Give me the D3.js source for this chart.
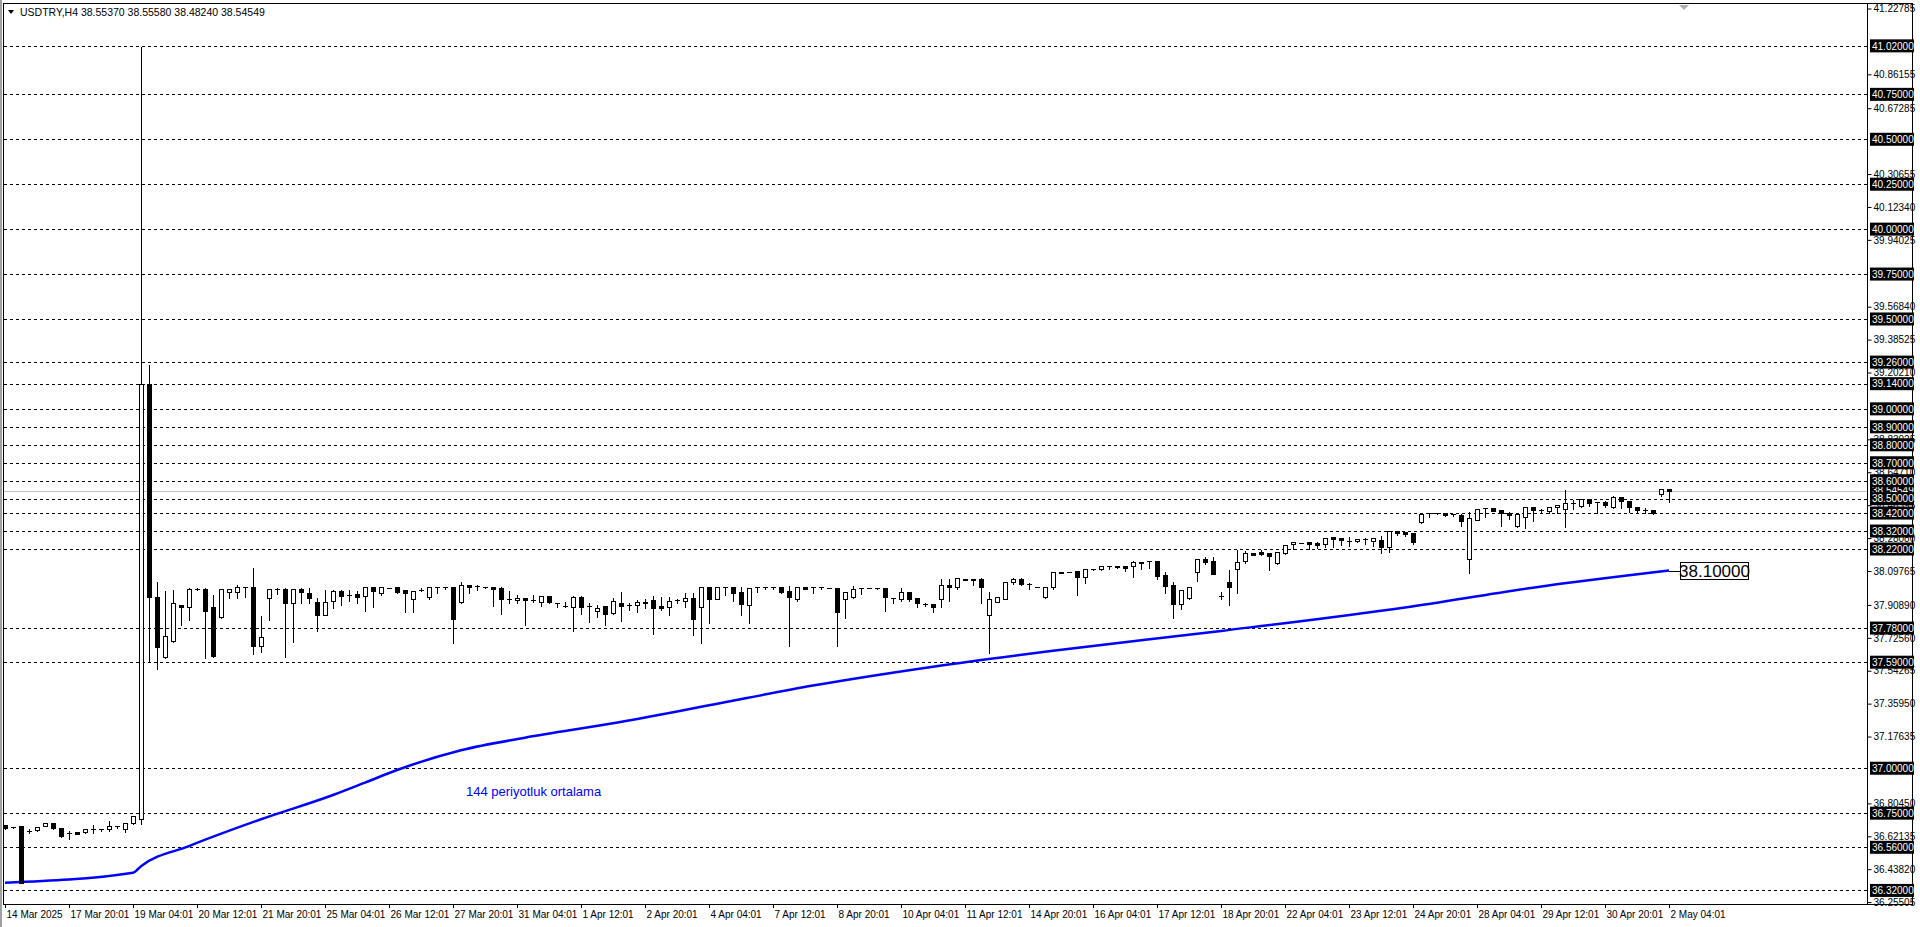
<!DOCTYPE html>
<html><head><meta charset="utf-8">
<script src="https://cdn.jsdelivr.net/npm/d3@7/dist/d3.min.js"></script>
<style>
html,body{margin:0;padding:0;background:#fff;overflow:hidden}
text{font-family:"Liberation Sans",Arial,sans-serif}
</style></head><body>
<svg id="c" width="1920" height="927"></svg>
<script>
const title = "USDTRY,H4  38.55370 38.55580 38.48240 38.54549";
const ohlc = [
[36.684,36.69,36.66,36.665],[36.675,36.68,36.67,36.675],[36.678,36.682,36.359,36.363],[36.652,36.665,36.637,36.652],
[36.656,36.678,36.653,36.675],[36.678,36.695,36.676,36.693],[36.693,36.695,36.663,36.665],[36.665,36.667,36.615,36.623],
[36.637,36.656,36.604,36.637],[36.643,36.645,36.632,36.634],[36.643,36.662,36.641,36.66],[36.66,36.689,36.641,36.66],
[36.66,36.668,36.652,36.66],[36.66,36.712,36.652,36.68],[36.678,36.685,36.67,36.678],[36.66,36.695,36.645,36.693],
[36.695,36.737,36.69,36.735],[36.72,41.02,36.69,39.14],[39.14,39.25,37.59,37.954],[37.954,38.04,37.55,37.676],
[37.617,37.99,37.615,37.736],[37.706,38.0,37.704,37.917],[37.908,37.91,37.797,37.895],[37.895,38.01,37.825,37.995],
[37.999,38.01,37.99,37.999],[37.995,38.01,37.611,37.877],[37.895,37.97,37.62,37.626],[37.84,38.0,37.838,37.995],
[37.982,38.0,37.945,38.0],[37.982,38.025,37.95,38.006],[38.006,38.01,37.955,38.006],[38.006,38.118,37.634,37.682],
[37.682,37.852,37.649,37.728],[37.945,37.997,37.825,37.995],[37.995,38.006,37.97,37.995],[37.995,38.006,37.617,37.917],
[37.917,37.997,37.70,37.995],[37.995,38.006,37.917,37.982],[37.973,38.006,37.92,37.945],[37.923,37.955,37.765,37.852],
[37.852,38.0,37.85,37.923],[37.932,38.0,37.89,37.988],[37.988,38.0,37.908,37.96],[37.964,38.0,37.932,37.964],
[37.968,37.99,37.918,37.951],[37.96,38.008,37.877,38.006],[38.006,38.008,37.899,37.988],[37.973,38.008,37.965,38.006],
[38.004,38.006,38.002,38.004],[38.006,38.008,37.977,37.982],[37.992,37.995,37.871,37.973],[37.94,37.99,37.871,37.988],
[37.992,38.01,37.988,37.992],[37.955,38.008,37.944,38.006],[38.006,38.008,37.977,38.006],[38.006,38.008,38.0,38.006],
[38.006,38.008,37.698,37.829],[37.923,38.041,37.92,38.017],[38.017,38.019,37.977,38.01],[38.012,38.025,37.992,38.012],
[38.006,38.008,38.004,38.006],[38.006,38.008,37.903,37.999],[38.004,38.014,37.858,37.943],[37.943,37.992,37.918,37.943],
[37.936,37.97,37.921,37.95],[37.945,37.947,37.797,37.936],[37.936,37.97,37.927,37.936],[37.927,37.958,37.903,37.956],
[37.956,37.958,37.918,37.927],[37.918,37.92,37.895,37.918],[37.903,37.932,37.895,37.903],[37.899,37.964,37.765,37.951],
[37.951,37.964,37.858,37.899],[37.903,37.927,37.815,37.903],[37.877,37.914,37.84,37.891],[37.903,37.905,37.797,37.858],
[37.866,37.951,37.858,37.93],[37.921,37.988,37.821,37.903],[37.91,37.927,37.88,37.91],[37.908,37.94,37.871,37.927],
[37.927,37.945,37.89,37.918],[37.936,37.964,37.747,37.89],[37.903,37.958,37.88,37.892],[37.899,37.958,37.853,37.929],
[37.934,37.95,37.921,37.934],[37.932,37.982,37.895,37.945],[37.945,37.982,37.741,37.829],[37.899,38.014,37.695,38.006],
[38.006,38.008,37.81,37.943],[37.943,38.008,37.94,38.006],[38.006,38.01,37.964,38.006],[38.006,38.014,37.932,37.977],
[37.979,38.014,37.853,37.912],[37.906,38.004,37.81,38.001],[38.006,38.008,37.982,38.006],[38.006,38.008,38.0,38.006],
[38.006,38.008,38.0,38.006],[38.006,38.014,37.977,37.982],[37.986,38.018,37.68,37.951],[37.943,38.008,37.932,38.006],
[38.006,38.008,37.997,37.999],[38.006,38.008,37.977,38.006],[38.006,38.008,38.0,38.006],[38.004,38.006,38.002,38.004],
[38.001,38.006,37.68,37.871],[37.94,37.988,37.838,37.981],[37.951,38.02,37.95,37.995],[38.004,38.01,37.97,38.004],
[38.004,38.006,38.002,38.004],[38.004,38.01,37.999,38.004],[38.001,38.003,37.877,37.951],[37.949,37.951,37.918,37.949],
[37.943,38.006,37.932,37.979],[37.979,37.981,37.932,37.943],[37.945,37.947,37.899,37.918],[37.914,37.927,37.903,37.914],
[37.912,37.921,37.871,37.899],[37.943,38.057,37.899,38.018],[38.018,38.057,37.932,38.006],[38.006,38.066,38.0,38.057],
[38.055,38.057,38.045,38.047],[38.055,38.057,38.018,38.047],[38.055,38.066,37.92,38.01],[37.851,37.985,37.643,37.943],
[37.925,37.953,37.923,37.951],[37.943,38.042,37.941,38.036],[38.036,38.066,38.025,38.051],[38.051,38.066,38.018,38.025],
[38.023,38.036,37.995,38.023],[38.01,38.012,38.008,38.01],[37.951,38.006,37.945,38.006],[38.006,38.094,38.0,38.09],
[38.094,38.096,38.084,38.086],[38.092,38.094,38.09,38.092],[38.095,38.097,37.964,38.062],[38.066,38.116,38.032,38.107],
[38.107,38.109,38.105,38.107],[38.107,38.129,38.105,38.127],[38.127,38.129,38.107,38.127],[38.127,38.129,38.116,38.118],
[38.125,38.127,38.099,38.114],[38.127,38.159,38.062,38.146],[38.15,38.153,38.107,38.144],[38.155,38.16,38.114,38.155],
[38.153,38.155,38.051,38.071],[38.073,38.097,37.977,38.016],[38.018,38.042,37.838,37.914],[37.912,37.997,37.888,37.99],
[37.945,38.009,37.943,38.007],[38.094,38.166,38.044,38.164],[38.164,38.181,38.136,38.148],[38.151,38.181,38.081,38.083],
[37.96,37.986,37.943,37.96],[38.034,38.109,37.91,38.007],[38.107,38.218,37.973,38.146],[38.151,38.214,38.144,38.196],
[38.199,38.201,38.186,38.188],[38.201,38.218,38.188,38.19],[38.196,38.198,38.103,38.183],[38.14,38.203,38.138,38.201],
[38.196,38.246,38.194,38.244],[38.246,38.264,38.218,38.257],[38.255,38.257,38.253,38.255],[38.257,38.259,38.218,38.25],
[38.253,38.264,38.224,38.244],[38.246,38.281,38.229,38.279],[38.285,38.287,38.233,38.274],[38.281,38.283,38.242,38.268],
[38.266,38.292,38.237,38.266],[38.263,38.277,38.261,38.275],[38.277,38.288,38.248,38.277],[38.263,38.283,38.237,38.281],
[38.27,38.298,38.2,38.229],[38.229,38.318,38.205,38.318],[38.318,38.32,38.298,38.307],[38.316,38.318,38.294,38.303],
[38.307,38.309,38.246,38.261],[38.368,38.417,38.362,38.415],[38.418,38.42,38.396,38.418],[38.418,38.42,38.416,38.418],
[38.418,38.42,38.403,38.411],[38.414,38.416,38.405,38.414],[38.409,38.418,38.35,38.377],[38.164,38.431,38.088,38.39],
[38.381,38.45,38.379,38.444],[38.446,38.453,38.396,38.446],[38.446,38.448,38.431,38.433],[38.437,38.439,38.35,38.418],
[38.42,38.431,38.387,38.407],[38.346,38.417,38.344,38.415],[38.396,38.459,38.338,38.452],[38.452,38.454,38.377,38.439],
[38.439,38.446,38.428,38.439],[38.433,38.454,38.422,38.452],[38.452,38.47,38.422,38.463],[38.441,38.552,38.344,38.474],
[38.478,38.5,38.441,38.478],[38.459,38.502,38.455,38.496],[38.498,38.502,38.459,38.474],[38.48,38.483,38.418,38.48],
[38.481,38.492,38.452,38.463],[38.452,38.52,38.45,38.507],[38.507,38.509,38.446,38.485],[38.489,38.492,38.424,38.452],
[38.454,38.456,38.428,38.439],[38.439,38.452,38.422,38.439],[38.437,38.44,38.416,38.418],[38.526,38.554,38.515,38.552],
[38.5537,38.5558,38.4824,38.54549]
];
const maIdx = [0,16,17,23,32,41,45,49,57,65,76,88,101,116,131,152,175,191,208];
const maVal = [36.363,36.418,36.455,36.567,36.716,36.851,36.92,36.99,37.10,37.17,37.25,37.35,37.46,37.565,37.654,37.764,37.895,38.005,38.1];
const maLabel = "144 periyotluk ortalama";
const maValueText = "38.10000";
const levels = [41.02,40.75,40.5,40.25,40.0,39.75,39.5,39.26,39.14,39.0,38.9,38.8,38.7,38.6,38.5,38.42,38.32,38.22,37.78,37.59,37.0,36.75,36.56,36.32];
const priceTicks = [41.22785,40.86155,40.67285,40.30655,40.12340,39.94025,39.56840,39.38525,39.20210,38.83025,38.64710,38.46395,38.28080,38.09765,37.90890,37.72560,37.54265,37.35950,37.17635,36.80450,36.62135,36.43820,36.25505];
const lastPrice = 38.54549;
const timeLabels = ["14 Mar 2025","17 Mar 20:01","19 Mar 04:01","20 Mar 12:01","21 Mar 20:01","25 Mar 04:01","26 Mar 12:01","27 Mar 20:01","31 Mar 04:01","1 Apr 12:01","2 Apr 20:01","4 Apr 04:01","7 Apr 12:01","8 Apr 20:01","10 Apr 04:01","11 Apr 12:01","14 Apr 20:01","16 Apr 04:01","17 Apr 12:01","18 Apr 20:01","22 Apr 04:01","23 Apr 12:01","24 Apr 20:01","28 Apr 04:01","29 Apr 12:01","30 Apr 20:01","2 May 04:01"];

const L=4, R=1867, T=4, B=905;
const svg = d3.select("#c");
const x = d3.scaleLinear().domain([0,208]).range([5,1669]);
const y = d3.scaleLinear().domain([36.25505,41.22785]).range([902.1,8.5]);
const px = v => Math.round(x(v)) + 0.5;
const py = v => Math.round(y(v)) + 0.5;

svg.append("rect").attr("x",0).attr("y",0).attr("width",2).attr("height",927).attr("fill","#a0a0a0");
svg.append("rect").attr("x",L-0.5).attr("y",T-0.5).attr("width",1913-L).attr("height",B-T).attr("fill","none").attr("stroke","#000");
svg.append("line").attr("x1",R+0.5).attr("x2",R+0.5).attr("y1",T).attr("y2",B).attr("stroke","#000");

svg.append("g").selectAll("line").data(levels).join("line")
 .attr("x1",L).attr("x2",R).attr("y1",d=>py(d)).attr("y2",d=>py(d))
 .attr("stroke","#000").attr("stroke-dasharray","3,3").attr("shape-rendering","crispEdges");
svg.append("line").attr("x1",L).attr("x2",R).attr("y1",py(lastPrice)).attr("y2",py(lastPrice))
 .attr("stroke","#c0c0c0").attr("shape-rendering","crispEdges");

svg.append("path").datum(maIdx.map((d,i)=>[d,maVal[i]]))
 .attr("d",d3.line().curve(d3.curveMonotoneX).x(d=>x(d[0])).y(d=>y(d[1])))
 .attr("fill","none").attr("stroke","#0000ff").attr("stroke-width",2.5);

const cg = svg.append("g").attr("shape-rendering","crispEdges");
ohlc.forEach((d,i)=>{
  const [o,h,l,c]=d, cx=px(i);
  cg.append("line").attr("x1",cx).attr("x2",cx).attr("y1",py(h)).attr("y2",py(l)).attr("stroke","#000");
  const top=Math.round(y(Math.max(o,c))), bot=Math.round(y(Math.min(o,c)));
  if (bot-top<1) {
    cg.append("line").attr("x1",cx-2.5).attr("x2",cx+2.5).attr("y1",top+0.5).attr("y2",top+0.5).attr("stroke","#000");
  } else if (c>=o) {
    cg.append("rect").attr("x",cx-2).attr("y",top+0.5).attr("width",4).attr("height",bot-top).attr("fill","#fff").attr("stroke","#000");
  } else {
    cg.append("rect").attr("x",cx-2.5).attr("y",top).attr("width",5).attr("height",bot-top+1).attr("fill","#000");
  }
});

svg.append("text").attr("x",466).attr("y",796).attr("fill","#0000ff").attr("font-size","13px").text(maLabel);
const maEnd = maVal[maVal.length-1];
svg.append("line").attr("x1",x(208)).attr("x2",1680).attr("y1",py(maEnd)).attr("y2",py(maEnd)).attr("stroke","#000");
svg.append("rect").attr("x",1680.5).attr("y",562.5).attr("width",68).attr("height",17).attr("fill","#fff").attr("stroke","#000");
svg.append("text").attr("x",1714.5).attr("y",577).attr("text-anchor","middle").attr("font-size","17px").attr("fill","#000").text(maValueText);

const ax = svg.append("g").attr("transform",`translate(${R+0.5},0)`)
 .call(d3.axisRight(y).tickValues(priceTicks).tickSize(4).tickPadding(2).tickFormat(d=>d.toFixed(5)));
ax.select(".domain").remove();
ax.selectAll("text").attr("font-size","10px").attr("font-family","Liberation Sans, Arial").attr("fill","#000");
ax.selectAll("line").attr("stroke","#000");

function box(v){
  const g=svg.append("g");
  g.append("rect").attr("x",R+3).attr("y",y(v)-6.5).attr("width",44).attr("height",13).attr("fill","#000");
  g.append("text").attr("x",R+5).attr("y",y(v)+3.8).attr("fill","#fff").attr("font-size","10px").text(v.toFixed(5));
}
box(lastPrice);
levels.forEach(box);

const tx = svg.append("g").attr("transform",`translate(0,${B})`)
 .call(d3.axisBottom(x).tickValues(timeLabels.map((d,i)=>i*8)).tickSize(3).tickFormat((d,i)=>timeLabels[i]));
tx.select(".domain").remove();
tx.selectAll("text").attr("text-anchor","start").attr("dx",1).attr("font-size","10px").attr("font-family","Liberation Sans, Arial").attr("fill","#000");

svg.append("path").attr("d","M8,10 L14,10 L11,14 Z").attr("fill","#000");
svg.append("text").attr("x",20).attr("y",16).attr("font-size","10.5px").attr("fill","#000").text(title);
svg.append("path").attr("d","M1679,5 L1689,5 L1684,10 Z").attr("fill","#b0b0b0");
</script></body></html>
